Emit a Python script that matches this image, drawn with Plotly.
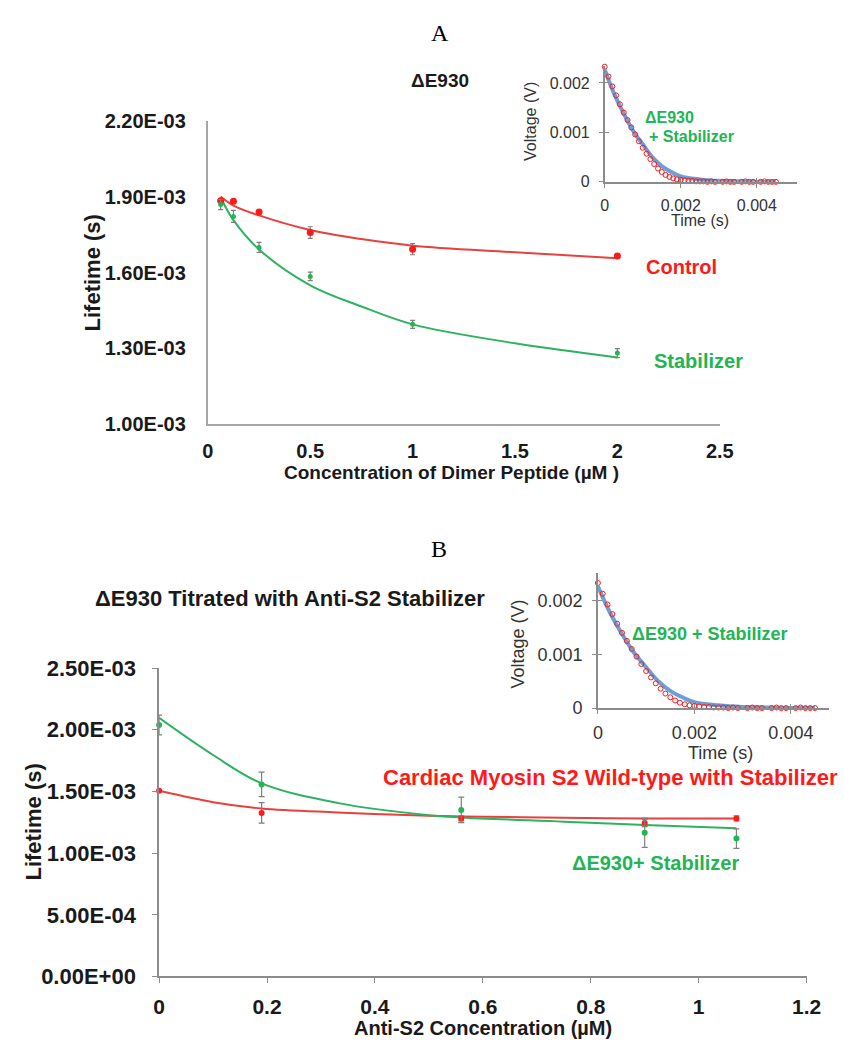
import plotly.graph_objects as go
import numpy as np

W, H = 844, 1051

# ---------------- Panel A data (lifetime in s, concentration in µM) ----------------
conc_A = [0.0625, 0.125, 0.25, 0.5, 1.0, 2.0]
control_A = [1.885e-3, 1.883e-3, 1.841e-3, 1.759e-3, 1.693e-3, 1.666e-3]
control_A_err = [0.006e-3, 0.005e-3, 0.005e-3, 0.023e-3, 0.022e-3, 0.006e-3]
stab_A = [1.870e-3, 1.823e-3, 1.700e-3, 1.585e-3, 1.395e-3, 1.281e-3]
stab_A_err = [0.020e-3, 0.024e-3, 0.020e-3, 0.017e-3, 0.016e-3, 0.018e-3]

fit_x_A = [0.0625, 0.125, 0.25, 0.5, 0.75, 1.0, 1.5, 2.0]
fit_control_A = [1.902e-3, 1.866e-3, 1.827e-3, 1.769e-3, 1.733e-3, 1.707e-3, 1.681e-3, 1.657e-3]
fit_stab_A = [1.898e-3, 1.808e-3, 1.692e-3, 1.550e-3, 1.466e-3, 1.395e-3, 1.320e-3, 1.264e-3]

xt_A = [0, 0.5, 1, 1.5, 2, 2.5]
xt_A_text = ["0", "0.5", "1", "1.5", "2", "2.5"]
yt_A = [1.0e-3, 1.3e-3, 1.6e-3, 1.9e-3, 2.2e-3]
yt_A_text = ["1.00E-03", "1.30E-03", "1.60E-03", "1.90E-03", "2.20E-03"]

# ---------------- Panel B data ----------------
conc_B = [0.0, 0.19, 0.56, 0.9, 1.07]
wt_B = [1.505e-3, 1.326e-3, 1.281e-3, 1.244e-3, 1.281e-3]
wt_B_err = [0.010e-3, 0.083e-3, 0.020e-3, 0.030e-3, 0.020e-3]
de_B = [2.039e-3, 1.557e-3, 1.350e-3, 1.165e-3, 1.118e-3]
de_B_err = [0.080e-3, 0.099e-3, 0.103e-3, 0.118e-3, 0.079e-3]

fit_x_B = [0.0, 0.1, 0.19, 0.33, 0.5, 0.56, 0.75, 0.9, 1.07]
fit_wt_B = [1.505e-3, 1.413e-3, 1.362e-3, 1.330e-3, 1.302e-3, 1.297e-3, 1.287e-3, 1.281e-3, 1.280e-3]
fit_de_B = [2.096e-3, 1.795e-3, 1.565e-3, 1.407e-3, 1.307e-3, 1.289e-3, 1.255e-3, 1.228e-3, 1.202e-3]

xt_B = [0, 0.2, 0.4, 0.6, 0.8, 1.0, 1.2]
xt_B_text = ["0", "0.2", "0.4", "0.6", "0.8", "1", "1.2"]
yt_B = [0.0, 0.5e-3, 1.0e-3, 1.5e-3, 2.0e-3, 2.5e-3]
yt_B_text = ["0.00E+00", "5.00E-04", "1.00E-03", "1.50E-03", "2.00E-03", "2.50E-03"]

# ---------------- Inset data (voltage decay), time in ms, voltage in mV ----------------
t_ms = [0.0, 0.1, 0.2, 0.3, 0.4, 0.5, 0.6, 0.7, 0.8, 0.9,
        1.0, 1.1, 1.2, 1.3, 1.4, 1.5, 1.6, 1.7, 1.8, 1.9,
        2.0, 2.1, 2.2, 2.3, 2.4, 2.5, 2.6, 2.7, 2.8, 2.9,
        3.0, 3.1, 3.2, 3.3, 3.4, 3.5, 3.6, 3.7, 3.8, 3.9,
        4.0, 4.1, 4.2, 4.3, 4.4, 4.5]
v_red_mV = [2.33, 2.13, 1.93, 1.75, 1.57, 1.40, 1.25, 1.10, 0.96, 0.82,
            0.69, 0.57, 0.46, 0.36, 0.27, 0.20, 0.14, 0.10, 0.07, 0.05,
            0.04, 0.03, 0.02, 0.02, 0.01, 0.01, 0.01, 0.00, 0.01, 0.00,
            -0.01, 0.00, 0.01, 0.00, 0.00, -0.01, 0.00, 0.01, 0.00, 0.00,
            -0.01, 0.00, 0.01, 0.00, 0.00, 0.00]
t_fit_ms = [0.0, 0.25, 0.5, 0.75, 1.0, 1.25, 1.5, 1.75, 2.0, 2.5, 3.0, 3.5, 4.0, 4.5]
v_fit_mV = [2.27, 1.78, 1.38, 1.03, 0.76, 0.50, 0.32, 0.20, 0.11, 0.05, 0.02, 0.01, 0.0, 0.0]

xt_in = [0, 0.002, 0.004]
xt_in_text = ["0", "0.002", "0.004"]
yt_in = [0, 0.001, 0.002]
yt_in_text = ["0", "0.001", "0.002"]

# ---------------- styling ----------------
RED = "#ff1a1a"
RED_LINE = "#e8403c"
GREEN = "#22b455"
GREEN_LINE = "#2db35f"
BLUE = "#6aa0d8"
GREY = "#7f7f7f"
AXIS_GREY = "#8c8c8c"
SANS = "Liberation Sans, Arial, sans-serif"
SERIF = "Liberation Serif, Times New Roman, serif"


def px(x):
    return x / W


def py(y):
    return 1 - y / H


t_s = np.array(t_ms) * 1e-3
v_red = np.array(v_red_mV) * 1e-3
t_fit_s = np.array(t_fit_ms) * 1e-3
v_fit = np.array(v_fit_mV) * 1e-3

fig = go.Figure()

# ---- Panel A main
fig.add_trace(go.Scatter(x=fit_x_A, y=fit_control_A, mode="lines", line=dict(color=RED_LINE, width=2, shape="spline"),
                         xaxis="x", yaxis="y", hoverinfo="skip"))
fig.add_trace(go.Scatter(x=fit_x_A, y=fit_stab_A, mode="lines", line=dict(color=GREEN_LINE, width=2, shape="spline"),
                         xaxis="x", yaxis="y", hoverinfo="skip"))
fig.add_trace(go.Scatter(x=conc_A, y=control_A, mode="markers", marker=dict(color=RED, size=7),
                         error_y=dict(type="data", array=control_A_err, color=GREY, thickness=1.2, width=2.5),
                         xaxis="x", yaxis="y"))
fig.add_trace(go.Scatter(x=conc_A, y=stab_A, mode="markers", marker=dict(color=GREEN, size=5),
                         error_y=dict(type="data", array=stab_A_err, color=GREY, thickness=1.2, width=2.5),
                         xaxis="x", yaxis="y"))

# ---- Panel B main
fig.add_trace(go.Scatter(x=fit_x_B, y=fit_wt_B, mode="lines", line=dict(color=RED_LINE, width=2, shape="spline"),
                         xaxis="x2", yaxis="y2", hoverinfo="skip"))
fig.add_trace(go.Scatter(x=fit_x_B, y=fit_de_B, mode="lines", line=dict(color=GREEN_LINE, width=2, shape="spline"),
                         xaxis="x2", yaxis="y2", hoverinfo="skip"))
fig.add_trace(go.Scatter(x=conc_B, y=wt_B, mode="markers", marker=dict(color=RED, size=6),
                         error_y=dict(type="data", array=wt_B_err, color=GREY, thickness=1.2, width=3),
                         xaxis="x2", yaxis="y2", cliponaxis=False))
fig.add_trace(go.Scatter(x=conc_B, y=de_B, mode="markers", marker=dict(color=GREEN, size=6),
                         error_y=dict(type="data", array=de_B_err, color=GREY, thickness=1.2, width=3),
                         xaxis="x2", yaxis="y2", cliponaxis=False))

# ---- Insets (A: x3/y3, B: x4/y4); overlay axes x5/y5 and x6/y6 give the crossing tick marks
for xa, ya, xo, yo in (("x3", "y3", "x5", "y5"), ("x4", "y4", "x6", "y6")):
    fig.add_trace(go.Scatter(x=t_fit_s, y=v_fit, mode="lines", line=dict(color=BLUE, width=4, shape="spline"),
                             xaxis=xa, yaxis=ya, cliponaxis=False, hoverinfo="skip"))
    fig.add_trace(go.Scatter(x=t_s, y=v_red, mode="markers",
                             marker=dict(symbol="circle-open", color=RED, size=5, line=dict(width=1)),
                             xaxis=xa, yaxis=ya, cliponaxis=False))
    fig.add_trace(go.Scatter(x=[], y=[], mode="markers", xaxis=xo, yaxis=yo, hoverinfo="skip"))

tick_bold = lambda s: dict(family=SANS, size=s, color="#1a1a1a", weight="bold")
tick_reg = lambda s: dict(family=SANS, size=s, color="#333333")

common = dict(showgrid=False, zeroline=False, tickmode="array")
inset_x = dict(tickvals=xt_in, ticklen=4, tickcolor=AXIS_GREY, **common)
inset_y = dict(tickvals=yt_in, ticklen=4, tickcolor=AXIS_GREY, **common)

fig.update_layout(
    width=W, height=H, margin=dict(l=0, r=0, t=0, b=0),
    paper_bgcolor="white", plot_bgcolor="rgba(0,0,0,0)", showlegend=False,
    xaxis=dict(domain=[px(207), px(732)], range=[0, 2.5], anchor="y", tickvals=xt_A, ticktext=xt_A_text,
               showline=True, linecolor="#a6a6a6", linewidth=2, ticks="", tickfont=tick_bold(20),
               ticklabelstandoff=8, **common),
    yaxis=dict(domain=[py(422), py(112)], range=[1.0e-3, 2.2e-3], anchor="x", tickvals=yt_A, ticktext=yt_A_text,
               showline=True, linecolor="#a6a6a6", linewidth=2, ticks="", tickfont=tick_bold(20),
               ticklabelstandoff=16, **common),
    xaxis2=dict(domain=[px(157), px(821)], range=[0, 1.2], anchor="y2", tickvals=xt_B, ticktext=xt_B_text,
                showline=True, linecolor=AXIS_GREY, linewidth=1.5, ticks="outside", ticklen=5, tickcolor=AXIS_GREY,
                tickfont=tick_bold(21), ticklabelstandoff=6, **common),
    yaxis2=dict(domain=[py(988), py(672)], range=[0, 2.5e-3], anchor="x2", tickvals=yt_B, ticktext=yt_B_text,
                showline=True, linecolor=AXIS_GREY, linewidth=1.5, ticks="outside", ticklen=5, tickcolor=AXIS_GREY,
                tickfont=tick_bold(22), ticklabelstandoff=12, **common),
    # inset A
    xaxis3=dict(domain=[px(614), px(811)], range=[0, 0.00505], anchor="y3", ticktext=xt_in_text,
                showline=True, linecolor=AXIS_GREY, linewidth=1.5, ticks="outside",
                tickfont=tick_reg(16), ticklabelstandoff=4, **inset_x),
    yaxis3=dict(domain=[py(174), py(55)], range=[0, 0.00235], anchor="x3", ticktext=yt_in_text,
                showline=True, linecolor=AXIS_GREY, linewidth=1.5, ticks="outside",
                tickfont=tick_reg(16), ticklabelstandoff=6, **inset_y),
    xaxis5=dict(overlaying="x3", anchor="y5", range=[0, 0.00505], ticks="inside", showticklabels=False,
                showline=False, side="bottom", **inset_x),
    yaxis5=dict(overlaying="y3", anchor="x5", range=[0, 0.00235], ticks="inside", showticklabels=False,
                showline=False, side="left", **inset_y),
    # inset B
    xaxis4=dict(domain=[px(607), px(844)], range=[0, 0.00479], anchor="y4", ticktext=xt_in_text,
                showline=True, linecolor=AXIS_GREY, linewidth=1.5, ticks="outside",
                tickfont=tick_reg(18), ticklabelstandoff=4, **inset_x),
    yaxis4=dict(domain=[py(713), py(575)], range=[0, 0.00251], anchor="x4", ticktext=yt_in_text,
                showline=True, linecolor=AXIS_GREY, linewidth=1.5, ticks="outside",
                tickfont=tick_reg(18), ticklabelstandoff=6, **inset_y),
    xaxis6=dict(overlaying="x4", anchor="y6", range=[0, 0.00479], ticks="inside", showticklabels=False,
                showline=False, side="bottom", **inset_x),
    yaxis6=dict(overlaying="y4", anchor="x6", range=[0, 0.00251], ticks="inside", showticklabels=False,
                showline=False, side="left", **inset_y),
)


def note(text, x, y, size, color="#1a1a1a", bold=True, family=SANS, xanchor="center", angle=0):
    fig.add_annotation(text=text, x=px(x), y=py(y), xref="paper", yref="paper", showarrow=False,
                       xanchor=xanchor, yanchor="middle", textangle=angle,
                       font=dict(family=family, size=size, color=color, weight="bold" if bold else "normal"))


# Panel labels and titles
note("A", 445, 22, 24, color="black", bold=False, family=SERIF)
note("B", 444, 550, 24, color="black", bold=False, family=SERIF)
note("ΔE930", 445, 70, 19)
note("ΔE930 Titrated with Anti-S2 Stabilizer", 291, 601, 22)

# Axis titles
note("Lifetime (s)", 89, 267, 22, angle=-90)
note("Concentration of Dimer Peptide (µM )", 457, 472, 19)
note("Lifetime (s)", 28, 830, 22, angle=-90)
note("Anti-S2 Concentration (µM)", 489, 1041, 20)

# Series labels
note("Control", 693, 261, 20, color=RED)
note("Stabilizer", 710, 358, 20, color=GREEN)
note("Cardiac Myosin S2 Wild-type with Stabilizer", 385, 784, 22, color=RED, xanchor="left")
note("ΔE930+ Stabilizer", 666, 872, 20, color=GREEN)

# Inset A labels
note("Voltage (V)", 538, 112, 16, color="#333333", bold=False, angle=-90)
note("Time (s)", 712, 214, 16, color="#333333", bold=False)
note("ΔE930", 653, 108, 16, color=GREEN, xanchor="left")
note("+ Stabilizer", 657, 128, 16, color=GREEN, xanchor="left")

# Inset B labels
note("Voltage (V)", 525, 647, 18, color="#333333", bold=False, angle=-90)
note("Time (s)", 733, 759, 18, color="#333333", bold=False)
note("ΔE930 + Stabilizer", 722, 637, 18, color=GREEN)

fig.write_html(
    "out.html",
    config={"displayModeBar": False},
    post_script="document.body.style.margin='0';document.body.style.padding='0';document.body.style.overflow='hidden';",
)
